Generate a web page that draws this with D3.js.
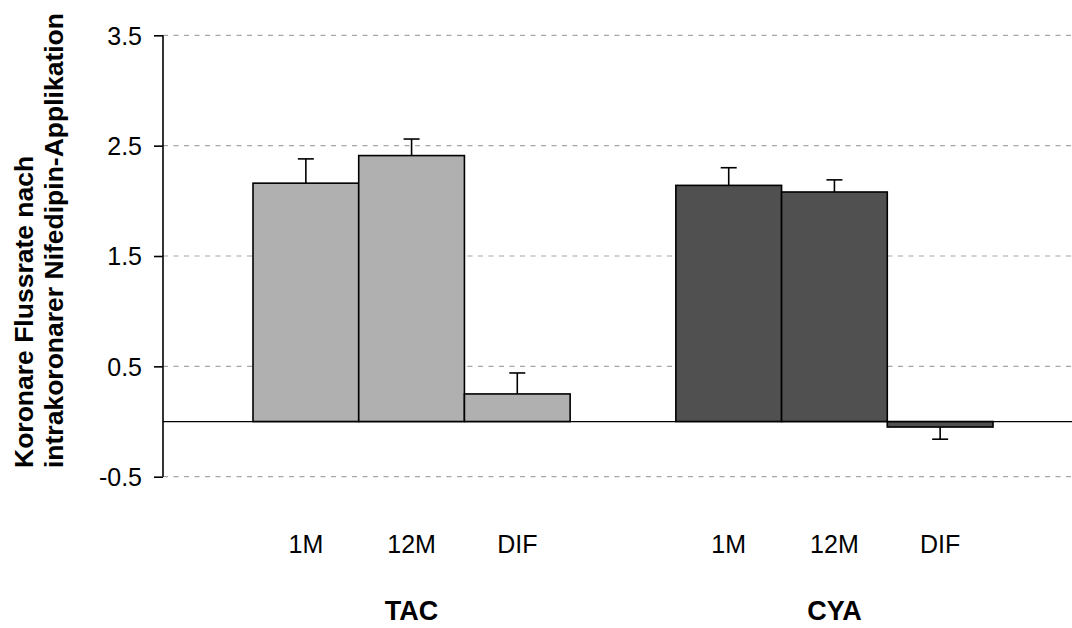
<!DOCTYPE html>
<html><head><meta charset="utf-8">
<script src="https://cdn.jsdelivr.net/npm/d3@7"></script>
<style>body{margin:0;background:#fff}svg{display:block}text{font-family:"Liberation Sans",Arial,sans-serif}</style>
</head><body>
<svg id="c" width="1072" height="628"></svg>
<script>
const groups = ["TAC", "CYA"];
const subLabels = ["1M", "12M", "DIF"];
const tacValues = [2.16, 2.41, 0.25];
const tacErrors = [0.22, 0.15, 0.19];
const cyaValues = [2.14, 2.08, -0.05];
const cyaErrors = [0.16, 0.11, 0.11];
const yTicks = [-0.5, 0.5, 1.5, 2.5, 3.5];
const yTitle = ["Koronare Flussrate nach", "intrakoronarer Nifedipin-Applikation"];

const colors = {TAC: "#b0b0b0", CYA: "#505050"};
const data = [];
groups.forEach((g, gi) => {
  const vals = gi === 0 ? tacValues : cyaValues;
  const errs = gi === 0 ? tacErrors : cyaErrors;
  subLabels.forEach((s, si) => data.push({g, s, v: vals[si], e: errs[si], slot: gi * 4 + si}));
});

const svg = d3.select("#c");
const axisX = 163, right = 1072;
const y = d3.scaleLinear().domain([-0.5, 3.5]).range([476.7, 35.3]);
const x = d3.scaleBand().domain(d3.range(7)).range([253, 993]).paddingInner(0).paddingOuter(0);

// grid
svg.append("g").selectAll("line").data(yTicks).join("line")
  .attr("x1", axisX).attr("x2", right)
  .attr("y1", d => y(d)).attr("y2", d => y(d))
  .attr("stroke", "#a6a6a6").attr("stroke-width", 1.2).attr("stroke-dasharray", "5,5.5");

// y axis
const ax = svg.append("g").attr("transform", `translate(${axisX},0)`)
  .call(d3.axisLeft(y).tickValues(yTicks).tickFormat(d => d.toFixed(1)).tickSize(9).tickPadding(12));
ax.attr("font-size", null).attr("font-family", null);
ax.select(".domain").attr("stroke", "#000").attr("stroke-width", 1.6).attr("d", `M0,${y(3.5)}V${y(-0.5)}`);
ax.selectAll(".tick line").attr("stroke", "#000").attr("stroke-width", 1.6);
ax.selectAll(".tick text").attr("font-size", 25).attr("fill", "#000").attr("dy", "0.35em");

// bars
svg.append("g").selectAll("rect").data(data).join("rect")
  .attr("x", d => x(d.slot)).attr("width", x.bandwidth())
  .attr("y", d => y(Math.max(0, d.v))).attr("height", d => Math.abs(y(d.v) - y(0)))
  .attr("fill", d => colors[d.g]).attr("stroke", "#000").attr("stroke-width", 1.6);

// error bars
const eb = svg.append("g").attr("stroke", "#000").attr("stroke-width", 1.6);
const cx = d => x(d.slot) + x.bandwidth() / 2;
const tip = d => y(d.v >= 0 ? d.v + d.e : d.v - d.e);
eb.selectAll("line.v").data(data).join("line").attr("class", "v")
  .attr("x1", cx).attr("x2", cx).attr("y1", d => y(d.v)).attr("y2", tip);
eb.selectAll("line.c").data(data).join("line").attr("class", "c")
  .attr("x1", d => cx(d) - 8).attr("x2", d => cx(d) + 8).attr("y1", tip).attr("y2", tip);

// zero line
svg.append("line").attr("x1", axisX).attr("x2", right).attr("y1", y(0)).attr("y2", y(0))
  .attr("stroke", "#000").attr("stroke-width", 1.3);

// category labels
svg.append("g").selectAll("text").data(data).join("text")
  .attr("x", cx).attr("y", 553)
  .attr("text-anchor", "middle").attr("font-size", 25).text(d => d.s);

// group labels
svg.append("g").selectAll("text").data(groups).join("text")
  .attr("x", (g, gi) => x(gi * 4 + 1) + x.bandwidth() / 2).attr("y", 620)
  .attr("text-anchor", "middle").attr("font-size", 27).attr("font-weight", "bold").text(g => g);

// y title
svg.append("g").attr("transform", "translate(0,468) rotate(-90)").selectAll("text").data(yTitle).join("text")
  .attr("x", 0).attr("y", (d, i) => 33 + i * 30).attr("text-anchor", "start")
  .attr("font-size", 26.5).attr("font-weight", "bold").text(d => d);
</script>
</body></html>
